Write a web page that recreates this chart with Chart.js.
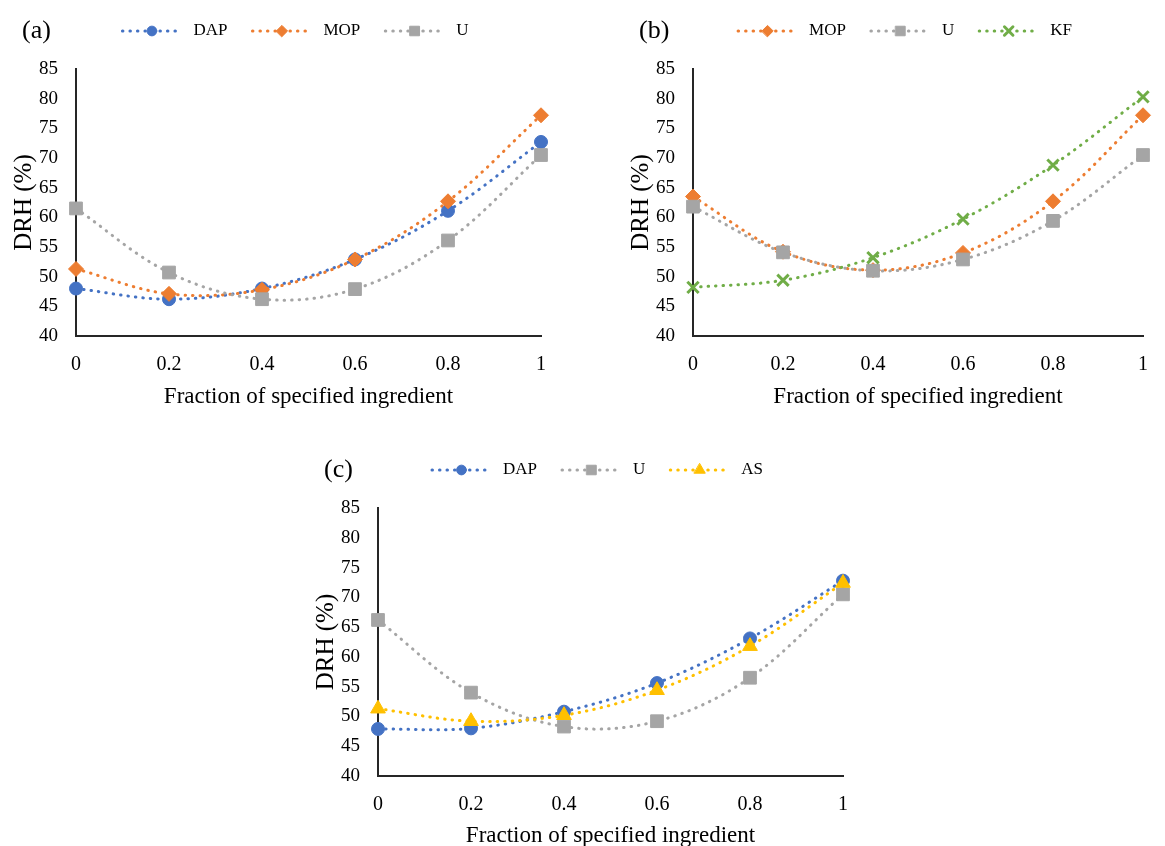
<!DOCTYPE html>
<html lang="en">
<head>
<meta charset="UTF-8">
<title>DRH vs fraction of specified ingredient</title>
<script src="https://cdn.jsdelivr.net/npm/chart.js"></script>
<style>
  body { margin: 0; background: #fff; }
  #wrap { position: relative; width: 1165px; height: 846px; overflow: hidden; }
  .panel { position: absolute; }
</style>
</head>
<body>
<div id="wrap">
  <div class="panel" style="left:0px;top:0px"><canvas id="chartA" width="580" height="420"></canvas></div>
  <div class="panel" style="left:617px;top:0px"><canvas id="chartB" width="548" height="420"></canvas></div>
  <div class="panel" style="left:302px;top:439px"><canvas id="chartC" width="580" height="407"></canvas></div>
</div>

<script>
// x values shared by every series
const fractions = [0, 0.2, 0.4, 0.6, 0.8, 1];

// (a)
const dapA = [48.0, 46.2, 48.0, 52.9, 61.1, 72.7];
const mopA = [51.3, 47.1, 47.8, 52.9, 62.7, 77.2];
const uA   = [61.5, 50.7, 46.2, 47.9, 56.1, 70.5];

// (b)
const mopB = [63.5, 54.2, 51.1, 54.0, 62.7, 77.2];
const uB   = [61.8, 54.1, 51.0, 52.9, 59.4, 70.5];
const kfB  = [48.2, 49.4, 53.2, 59.7, 68.8, 80.3];

// (c)
const dapC = [47.9, 48.0, 50.8, 55.6, 63.1, 72.8];
const uC   = [66.2, 54.0, 48.3, 49.2, 56.5, 70.5];
const asC  = [51.3, 49.2, 50.2, 54.4, 61.8, 72.4];

const xTitle = 'Fraction of specified ingredient';
const yTitle = 'DRH (%)';

const COLORS = { DAP: '#4472C4', MOP: '#ED7D31', U: '#A5A5A5', KF: '#70AD47', AS: '#FFC000' };
const MARKERS = {
  DAP: { style: 'circle', r: 6.5 },
  MOP: { style: 'rectRot', r: 7.5 },
  U:   { style: 'rect', r: 9 },
  KF:  { style: 'crossRot', r: 8 },
  AS:  { style: 'triangle', r: 8.5 }
};

const SERIF = '"Liberation Serif", "Times New Roman", serif';
Chart.defaults.font.family = SERIF;
Chart.defaults.color = '#000';

function series(name, values, order) {
  const c = COLORS[name], m = MARKERS[name];
  return {
    label: name,
    data: values.map((v, i) => ({ x: fractions[i], y: v })),
    borderColor: c,
    backgroundColor: c,
    borderWidth: 3,
    borderDash: [0.5, 7],
    borderCapStyle: 'round',
    tension: 0.35,
    pointStyle: m.style,
    pointRadius: m.r,
    pointHoverRadius: m.r,
    pointBackgroundColor: c,
    pointBorderColor: c,
    pointBorderWidth: m.style === 'crossRot' ? 3 : 1,
    clip: false,
    order: order
  };
}

// panel letter + line/marker legend drawn above the plot area
const panelLegend = {
  id: 'panelLegend',
  afterDraw(chart, args, opts) {
    const { ctx, chartArea } = chart;
    const y = chartArea.top - 38;
    ctx.save();
    ctx.textBaseline = 'middle';
    ctx.fillStyle = '#000';
    ctx.font = '26px ' + SERIF;
    ctx.fillText(opts.letter, chartArea.left - 54, y);

    ctx.font = '17px ' + SERIF;
    const symW = 63, textGap = 10, itemGap = 23;
    const ds = chart.data.datasets;
    const widths = ds.map(d => symW + textGap + ctx.measureText(d.label).width);
    const total = widths.reduce((a, b) => a + b, 0) + itemGap * (ds.length - 1);
    let x = (chartArea.left + chartArea.right) / 2 - 14 - total / 2;

    ds.forEach((d, i) => {
      ctx.strokeStyle = d.borderColor;
      ctx.fillStyle = d.borderColor;
      ctx.lineWidth = 3;
      ctx.lineCap = 'round';
      ctx.setLineDash(d.borderDash);
      ctx.beginPath();
      ctx.moveTo(x + 2, y);
      ctx.lineTo(x + symW - 2, y);
      ctx.stroke();
      ctx.setLineDash([]);
      ctx.lineWidth = d.pointBorderWidth;
      const r = d.pointRadius * 0.75;
      if (Chart.helpers && Chart.helpers.drawPoint) {
        Chart.helpers.drawPoint(ctx, { pointStyle: d.pointStyle, radius: r, borderWidth: d.pointBorderWidth, rotation: 0 }, x + symW / 2, y);
      } else {
        ctx.beginPath();
        ctx.arc(x + symW / 2, y, r, 0, Math.PI * 2);
        ctx.fill();
      }
      ctx.fillStyle = '#000';
      ctx.fillText(d.label, x + symW + textGap, y);
      x += widths[i] + itemGap;
    });
    ctx.restore();
  }
};

function scales(xHeight, xTitleBottom) {
  const axisLine = { display: true, color: '#262626', width: 2 };
  return {
    x: {
      type: 'linear', min: 0, max: 1,
      ticks: { stepSize: 0.2, padding: 17, font: { size: 20 }, maxRotation: 0, autoSkip: false,
               callback: v => String(+v.toFixed(1)) },
      grid: { display: false, drawTicks: false },
      border: axisLine,
      title: { display: true, text: xTitle, font: { size: 23, lineHeight: 1 }, padding: { top: 0, bottom: xTitleBottom } },
      afterFit: s => { s.height = xHeight; }
    },
    y: {
      type: 'linear', min: 40, max: 85,
      ticks: { stepSize: 5, padding: 18, font: { size: 19 } },
      grid: { display: false, drawTicks: false },
      border: axisLine,
      title: { display: true, text: yTitle, font: { size: 25, lineHeight: 1 }, padding: { top: 12, bottom: 0 } },
      afterFit: s => { s.width = 76; }
    }
  };
}

function makeChart(id, letter, datasets, padRight, xHeight, xTitleBottom) {
  return new Chart(document.getElementById(id), {
    type: 'line',
    data: { datasets },
    options: {
      responsive: false,
      animation: false,
      layout: { padding: { top: 69, left: 0, right: padRight, bottom: 0 } },
      scales: scales(xHeight, xTitleBottom),
      plugins: {
        legend: { display: false },
        tooltip: { enabled: false },
        panelLegend: { letter }
      }
    },
    plugins: [panelLegend]
  });
}

makeChart('chartA', '(a)', [series('DAP', dapA, 2), series('MOP', mopA, 1), series('U', uA, 0)], 39, 84, 12);
makeChart('chartB', '(b)', [series('MOP', mopB, 2), series('U', uB, 1), series('KF', kfB, 0)], 8, 84, 12);
makeChart('chartC', '(c)', [series('DAP', dapC, 2), series('U', uC, 1), series('AS', asC, 0)], 39, 70, -1);
</script>
</body>
</html>
